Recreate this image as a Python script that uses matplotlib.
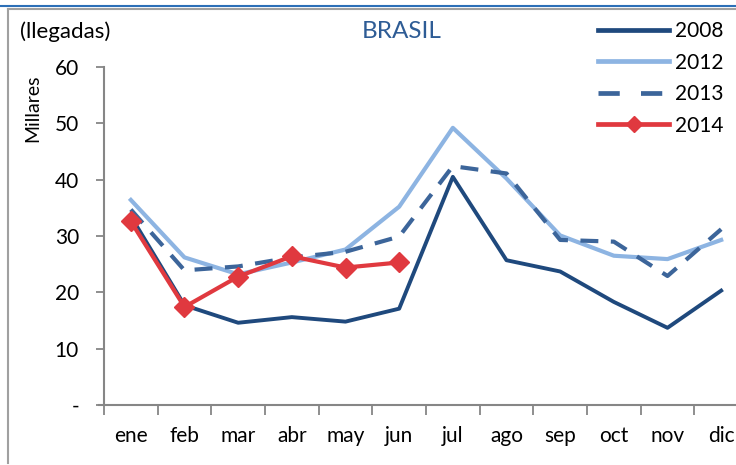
import matplotlib
matplotlib.use("Agg")
import numpy as np
from matplotlib import pyplot as plt
from matplotlib.lines import Line2D

meses = ["ene", "feb", "mar", "abr", "may", "jun", "jul", "ago", "sep", "oct", "nov", "dic"]
v2008 = [33.5, 17.7, 14.6, 15.6, 14.8, 17.1, 40.5, 25.7, 23.7, 18.3, 13.7, 20.3]
v2012 = [36.4, 26.2, 23.2, 25.3, 27.6, 35.2, 49.2, 40.2, 30.1, 26.5, 25.9, 29.3]
v2013 = [34.7, 23.9, 24.6, 26.2, 27.2, 29.9, 42.4, 41.1, 29.3, 29.0, 22.9, 31.2]
v2014 = [32.6, 17.4, 22.8, 26.4, 24.4, 25.3]
yticks = [0, 10, 20, 30, 40, 50, 60]
ylabels = ["-", "10", "20", "30", "40", "50", "60"]

plt.rcParams['font.family'] = ['Lato', 'DejaVu Sans']
fs = 15

fig = plt.figure(figsize=(7.36, 4.65), dpi=100)
ax = fig.add_axes([104/736, 60/465, 644/736, 338/465])

x = np.arange(len(meses))
c08 = "#1F497D"
c12 = "#8DB4E2"
c13 = "#3C659A"
c14 = "#E0393F"
ax.plot(x, v2008, color=c08, lw=2.8, label="2008")
ax.plot(x, v2012, color=c12, lw=3.0, label="2012")
ax.plot(x[:len(v2013)], v2013, color=c13, lw=3.0, ls=(0, (4.3, 3.0)), label="2013")
ax.plot(x[:len(v2014)], v2014, color=c14, lw=3.0, marker="D", ms=10, label="2014")

ax.set_xlim(-0.5, 11.5)
ax.set_ylim(0, 60)
ax.set_xticks(np.arange(-0.5, 12, 1))
ax.set_xticklabels([])
ax.set_xticks(x, minor=True)
ax.set_xticklabels(meses, minor=True, fontsize=fs)
ax.tick_params(axis="x", which="major", length=7, width=1.3, color="#868686", direction="out")
ax.tick_params(axis="x", which="minor", length=0, pad=15)
ax.set_yticks(yticks)
ax.set_yticklabels(ylabels, fontsize=fs)
ax.tick_params(axis="y", length=6, width=1.3, color="#868686", pad=12)
for s in ["top", "right"]:
    ax.spines[s].set_visible(False)
for s in ["left", "bottom"]:
    ax.spines[s].set_color("#868686")
    ax.spines[s].set_linewidth(1.5)
ax.spines["bottom"].set_bounds(-0.6, 11.5)

fig.text(20/736, 1 - 32/465, "(llegadas)", fontsize=16, va="center", ha="left")
fig.text(33/736, 1 - 108/465, "Millares", fontsize=14, rotation=90, va="center", ha="center")
fig.text(402/736, 1 - 32/465, "BRASIL", fontsize=17.5, color="#2E5C95", va="center", ha="center")

handles = [
    Line2D([], [], color=c08, lw=3.4),
    Line2D([], [], color=c12, lw=3.4),
    Line2D([], [], color=c13, lw=3.4, ls=(0, (4.5, 4.5))),
    Line2D([], [], color=c14, lw=3.4, marker="D", ms=8),
]
fig.legend(handles, ["2008", "2012", "2013", "2014"], loc="upper left",
           bbox_to_anchor=(590/736, 1 - 13/465), frameon=False, fontsize=fs,
           handlelength=3.4, handletextpad=0.3, labelspacing=0.55, borderaxespad=0)

# marco del gráfico
fig.add_artist(Line2D([0, 1], [1 - 6.5/465, 1 - 6.5/465], color="#2C6FB7", lw=1.5))
fig.add_artist(Line2D([7.5/736, 1], [1 - 9/465, 1 - 9/465], color="#A0A0A0", lw=1.5))
fig.add_artist(Line2D([7.5/736, 7.5/736], [1 - 9/465, 2/465], color="#A0A0A0", lw=1.5))

fig.savefig("out.png", dpi=100)
